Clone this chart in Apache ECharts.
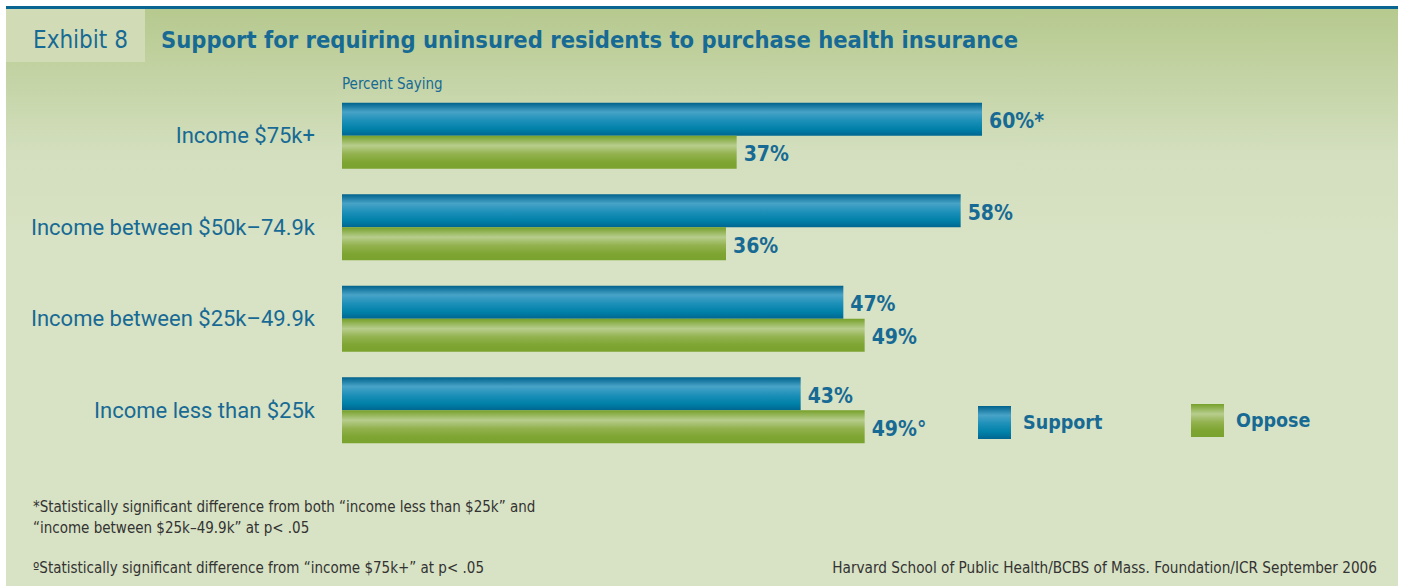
<!DOCTYPE html>
<html>
<head>
<meta charset="utf-8">
<script src="https://cdn.jsdelivr.net/npm/echarts@6/dist/echarts.min.js"></script>
<style>
html,body{margin:0;padding:0;background:#ffffff;}
#chart{width:1403px;height:586px;}
</style>
</head>
<body>
<div id="chart"></div>
<script>
var categories = ['Income $75k+', 'Income between $50k\u201374.9k', 'Income between $25k\u201349.9k', 'Income less than $25k'];
var supportValues = [60, 58, 47, 43];
var opposeValues = [37, 36, 49, 49];
var supportMarks = ['*', '', '', ''];
var opposeMarks = ['', '', '', '\u00b0'];
var seriesNames = ['Support', 'Oppose'];

var COND = '"Liberation Sans Narrow","DejaVu Sans Condensed","Roboto Condensed",Roboto,sans-serif';
var BLUE_TEXT = '#176a94';

var blueGrad = new echarts.graphic.LinearGradient(0, 0, 0, 1, [
  {offset: 0, color: '#00628c'},
  {offset: 0.28, color: '#48a3c7'},
  {offset: 0.55, color: '#1b8fb8'},
  {offset: 0.8, color: '#0080a8'},
  {offset: 1, color: '#006690'}
]);
var greenGrad = new echarts.graphic.LinearGradient(0, 0, 0, 1, [
  {offset: 0, color: '#76a02a'},
  {offset: 0.3, color: '#b7cd8d'},
  {offset: 0.55, color: '#93b24f'},
  {offset: 0.8, color: '#7ea532'},
  {offset: 1, color: '#7aa22e'}
]);

var chart = echarts.init(document.getElementById('chart'), null, {renderer: 'svg'});

var option = {
  backgroundColor: '#ffffff',
  animation: false,
  graphic: [
    {type: 'rect', z: -10, shape: {x: 6, y: 8, width: 1392, height: 578},
     style: {fill: new echarts.graphic.LinearGradient(0, 0, 0, 1, [
       {offset: 0, color: '#b6c98e'},
       {offset: 0.25, color: '#d3dfbe'},
       {offset: 0.4, color: '#d8e2c4'},
       {offset: 1, color: '#d8e2c4'}
     ])}},
    {type: 'rect', z: -9, shape: {x: 6, y: 6, width: 1392, height: 3}, style: {fill: '#0a6592'}},
    {type: 'rect', z: -8, shape: {x: 6, y: 9, width: 139, height: 53}, style: {fill: '#d1dcb7'}}
  ],
  title: [
    {text: 'Exhibit 8', left: 28, top: 23, textStyle: {fontFamily: COND, fontWeight: 'normal', fontSize: 24, color: BLUE_TEXT}},
    {text: 'Support for requiring uninsured residents to purchase health insurance', left: 156, top: 23,
     textStyle: {fontFamily: COND, fontWeight: 'bold', fontSize: 23.5, color: BLUE_TEXT}},
    {text: 'Percent Saying', left: 337, top: 71, textStyle: {fontFamily: COND, fontWeight: 'normal', fontSize: 15, color: BLUE_TEXT}},
    {text: '*Statistically significant difference from both \u201cincome less than $25k\u201d and\n\u201cincome between $25k\u201349.9k\u201d at p< .05',
     left: 28, top: 491, textStyle: {fontFamily: COND, fontWeight: 'normal', fontSize: 15, lineHeight: 21, color: '#333333'}},
    {text: '\u00baStatistically significant difference from \u201cincome $75k+\u201d at p< .05',
     left: 28, top: 555, textStyle: {fontFamily: COND, fontWeight: 'normal', fontSize: 15, color: '#333333'}},
    {text: 'Harvard School of Public Health/BCBS of Mass. Foundation/ICR September 2006',
     right: 21, top: 555, textStyle: {fontFamily: COND, fontWeight: 'normal', fontSize: 15.2, color: '#333333'}}
  ],
  legend: [
    {data: [seriesNames[0]], left: 973, top: 401, itemWidth: 33, itemHeight: 33, icon: 'rect',
     textStyle: {fontFamily: COND, fontWeight: 'bold', fontSize: 19.5, color: BLUE_TEXT, padding: [3, 0, 0, 7]}},
    {data: [seriesNames[1]], left: 1186, top: 399, itemWidth: 33, itemHeight: 33, icon: 'rect',
     textStyle: {fontFamily: COND, fontWeight: 'bold', fontSize: 19.5, color: BLUE_TEXT, padding: [3, 0, 0, 7]}}
  ],
  grid: {left: 342, top: 90, width: 640, height: 366, containLabel: false},
  xAxis: {type: 'value', min: 0, max: 60, show: false},
  yAxis: {
    type: 'category', data: categories, inverse: true,
    axisLine: {show: false}, axisTick: {show: false}, splitLine: {show: false},
    axisLabel: {margin: 27, fontFamily: 'Roboto, sans-serif', fontSize: 22, color: BLUE_TEXT, padding: [0, 0, 10, 0]}
  },
  series: [
    {name: seriesNames[0], type: 'bar', data: supportValues, barWidth: 33, barGap: '0%',
     itemStyle: {color: blueGrad},
     label: {show: true, position: 'right', distance: 7, offset: [0, 2], fontFamily: COND, fontWeight: 'bold', fontSize: 21, color: BLUE_TEXT,
       formatter: function (p) { return p.value + '%' + supportMarks[p.dataIndex]; }}},
    {name: seriesNames[1], type: 'bar', data: opposeValues, barWidth: 33, barGap: '0%',
     itemStyle: {color: greenGrad},
     label: {show: true, position: 'right', distance: 7, offset: [0, 2], fontFamily: COND, fontWeight: 'bold', fontSize: 21, color: BLUE_TEXT,
       formatter: function (p) { return p.value + '%' + opposeMarks[p.dataIndex]; }}}
  ]
};
chart.setOption(option);
</script>
</body>
</html>
